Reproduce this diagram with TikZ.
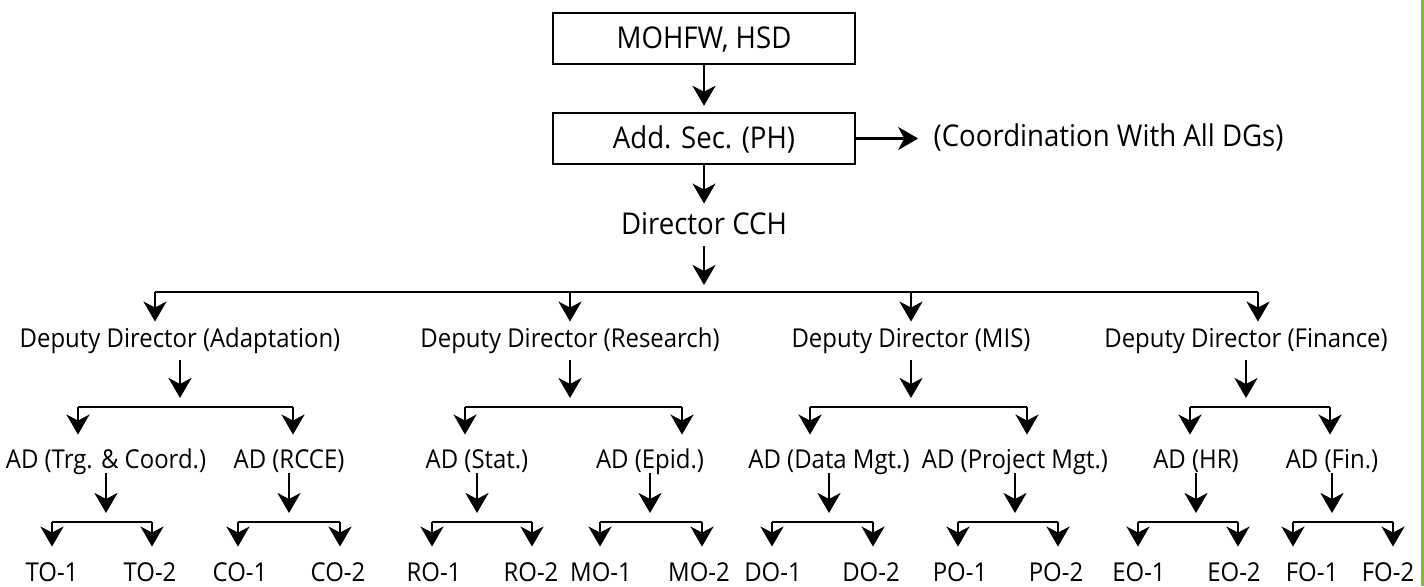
\documentclass[tikz,border=0pt]{standalone}
\usepackage{fontspec}
\setmainfont{Open Sans}[FakeStretch=0.92]
\usetikzlibrary{positioning, arrows.meta}
\definecolor{edge}{RGB}{125,192,32}
\tikzstyle{block} = [draw, rectangle, line width=1.2pt, minimum width=151pt, minimum height=25.5pt, inner sep=0pt, text height=10pt, text depth=0pt, font=\fontsize{15pt}{18pt}\selectfont]
\tikzstyle{role} = [inner sep=0pt, text height=9pt, text depth=2pt, anchor=base]
\tikzstyle{head} = [role, text height=10pt, font=\fontsize{15pt}{18pt}\selectfont]
\tikzstyle{link} = [->, shorten >=3.5pt]

\begin{document}
\begin{tikzpicture}[x=0.5pt, y=-0.5pt, line width=1.45pt, node distance=50pt, >={Stealth[length=10pt, width=11.5pt, inset=3pt]}, font=\fontsize{13pt}{15pt}\selectfont]
  \useasboundingbox (0,0) rectangle (1424,586);
  \fill [edge] (1421,0) rectangle (1424,586);

  \node [block] (mohfw) at (704,38.5) {MOHFW, HSD};
  \node [block, below of=mohfw] (addsec) {Add. Sec. (PH)};
  \node [head, right=38pt of addsec] (coord) {(Coordination With All DGs)};
  \node [head] (cch) at (704,234) {Director CCH};

  \draw [link, shorten >=3pt] (mohfw) -- (addsec);
  \draw [link, shorten >=7pt] (addsec) -- (coord);
  \draw [link, shorten >=4.5pt] (addsec) -- (cch);

  % deputy directors
  \coordinate (busL) at (155,292);
  \coordinate (busR) at (1258,292);
  \node [role] (dd-adapt) at (180,347) {Deputy Director (Adaptation)};
  \node [role] (dd-res) at (570,347) {Deputy Director (Research)};
  \node [role] (dd-mis) at (911,347) {Deputy Director (MIS)};
  \node [role] (dd-fin) at (1246,347) {Deputy Director (Finance)};

  \draw [link, shorten <=3.5pt] (cch) -- (cch |- busL);
  \draw (busL) -- (busR);
  \draw [link, shorten >=3pt] (busL) -- (busL |- dd-adapt.north);
  \draw [link, shorten >=3pt] (dd-res.north |- busL) -- (dd-res.north);
  \draw [link, shorten >=3pt] (dd-mis.north |- busL) -- (dd-mis.north);
  \draw [link, shorten >=3pt] (busR) -- (busR |- dd-fin.north);

  % assistant directors
  \coordinate (adaptL) at (78,407);    \coordinate (adaptR) at (293,407);
  \coordinate (resL) at (465,407);     \coordinate (resR) at (682,407);
  \coordinate (misL) at (810,407);     \coordinate (misR) at (1027,407);
  \coordinate (finL) at (1190,407);    \coordinate (finR) at (1330,407);
  \node [role] (ad-trg) at (106,468) {AD (Trg. \& Coord.)};
  \node [role] (ad-rcce) at (289,468) {AD (RCCE)};
  \node [role] (ad-stat) at (477,468) {AD (Stat.)};
  \node [role] (ad-epid) at (650,468) {AD (Epid.)};
  \node [role] (ad-data) at (829,468) {AD (Data Mgt.)};
  \node [role] (ad-proj) at (1015,468) {AD (Project Mgt.)};
  \node [role] (ad-hr) at (1196,468) {AD (HR)};
  \node [role] (ad-fin) at (1332,468) {AD (Fin.)};

  \draw [link, shorten <=4pt, shorten >=4.5pt] (dd-adapt) -- (dd-adapt |- adaptL);
  \draw [link, shorten <=4pt, shorten >=4.5pt] (dd-res) -- (dd-res |- resL);
  \draw [link, shorten <=4pt, shorten >=4.5pt] (dd-mis) -- (dd-mis |- misL);
  \draw [link, shorten <=4pt, shorten >=4.5pt] (dd-fin) -- (dd-fin |- finL);
  \draw (adaptL) -- (adaptR);
  \draw (resL) -- (resR);
  \draw (misL) -- (misR);
  \draw (finL) -- (finR);
  \draw [link, shorten >=7pt] (adaptL) -- (adaptL |- ad-trg.north);
  \draw [link, shorten >=7pt] (adaptR) -- (adaptR |- ad-rcce.north);
  \draw [link, shorten >=7pt] (resL) -- (resL |- ad-stat.north);
  \draw [link, shorten >=7pt] (resR) -- (resR |- ad-epid.north);
  \draw [link, shorten >=7pt] (misL) -- (misL |- ad-data.north);
  \draw [link, shorten >=7pt] (misR) -- (misR |- ad-proj.north);
  \draw [link, shorten >=7pt] (finL) -- (finL |- ad-hr.north);
  \draw [link, shorten >=7pt] (finR) -- (finR |- ad-fin.north);

  % officers
  \coordinate (toL) at (52,522);       \coordinate (toR) at (152,522);
  \coordinate (coL) at (238,522);      \coordinate (coR) at (340,522);
  \coordinate (roL) at (432,522);      \coordinate (roR) at (532,522);
  \coordinate (moL) at (600,522);      \coordinate (moR) at (702,522);
  \coordinate (doL) at (772,522);      \coordinate (doR) at (873,522);
  \coordinate (poL) at (958,522);      \coordinate (poR) at (1058,522);
  \coordinate (eoL) at (1138,522);     \coordinate (eoR) at (1238,522);
  \coordinate (foL) at (1293,522);     \coordinate (foR) at (1393,522);
  \node [role] (to1) at (52,581) {TO-1};
  \node [role] (to2) at (150,581) {TO-2};
  \node [role] (co1) at (240,581) {CO-1};
  \node [role] (co2) at (338,581) {CO-2};
  \node [role] (ro1) at (434,581) {RO-1};
  \node [role] (ro2) at (531,581) {RO-2};
  \node [role] (mo1) at (601,581) {MO-1};
  \node [role] (mo2) at (699,581) {MO-2};
  \node [role] (do1) at (773,581) {DO-1};
  \node [role] (do2) at (871,581) {DO-2};
  \node [role] (po1) at (960,581) {PO-1};
  \node [role] (po2) at (1056,581) {PO-2};
  \node [role] (eo1) at (1139,581) {EO-1};
  \node [role] (eo2) at (1234,581) {EO-2};
  \node [role] (fo1) at (1312,581) {FO-1};
  \node [role] (fo2) at (1388,581) {FO-2};

  \draw [link, shorten >=4.5pt] (ad-trg) -- (ad-trg |- toL);
  \draw [link, shorten >=4.5pt] (ad-rcce) -- (ad-rcce |- coL);
  \draw [link, shorten >=4.5pt] (ad-stat) -- (ad-stat |- roL);
  \draw [link, shorten >=4.5pt] (ad-epid) -- (ad-epid |- moL);
  \draw [link, shorten >=4.5pt] (ad-data) -- (ad-data |- doL);
  \draw [link, shorten >=4.5pt] (ad-proj) -- (ad-proj |- poL);
  \draw [link, shorten >=4.5pt] (ad-hr) -- (ad-hr |- eoL);
  \draw [link, shorten >=4.5pt] (ad-fin) -- (ad-fin |- foL);
  \draw (toL) -- (toR);
  \draw (coL) -- (coR);
  \draw (roL) -- (roR);
  \draw (moL) -- (moR);
  \draw (doL) -- (doR);
  \draw (poL) -- (poR);
  \draw (eoL) -- (eoR);
  \draw (foL) -- (foR);
  \draw [link, shorten >=7.5pt] (toL) -- (toL |- to1.north);
  \draw [link, shorten >=7.5pt] (toR) -- (toR |- to2.north);
  \draw [link, shorten >=7.5pt] (coL) -- (coL |- co1.north);
  \draw [link, shorten >=7.5pt] (coR) -- (coR |- co2.north);
  \draw [link, shorten >=7.5pt] (roL) -- (roL |- ro1.north);
  \draw [link, shorten >=7.5pt] (roR) -- (roR |- ro2.north);
  \draw [link, shorten >=7.5pt] (moL) -- (moL |- mo1.north);
  \draw [link, shorten >=7.5pt] (moR) -- (moR |- mo2.north);
  \draw [link, shorten >=7.5pt] (doL) -- (doL |- do1.north);
  \draw [link, shorten >=7.5pt] (doR) -- (doR |- do2.north);
  \draw [link, shorten >=7.5pt] (poL) -- (poL |- po1.north);
  \draw [link, shorten >=7.5pt] (poR) -- (poR |- po2.north);
  \draw [link, shorten >=7.5pt] (eoL) -- (eoL |- eo1.north);
  \draw [link, shorten >=7.5pt] (eoR) -- (eoR |- eo2.north);
  \draw [link, shorten >=7.5pt] (foL) -- (foL |- fo1.north);
  \draw [link, shorten >=7.5pt] (foR) -- (foR |- fo2.north);
\end{tikzpicture}
\end{document}
